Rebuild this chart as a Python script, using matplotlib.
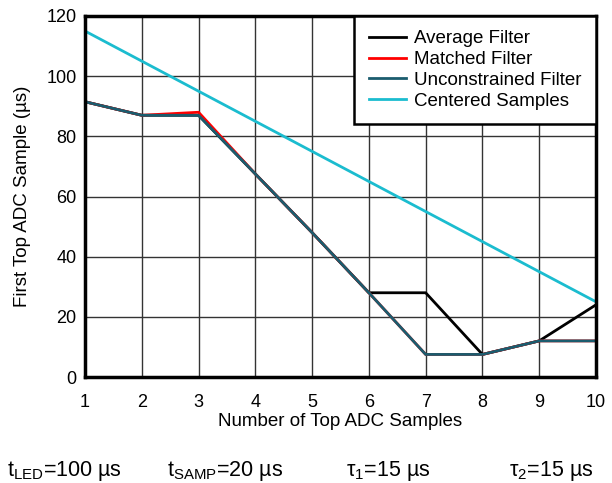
import numpy as np
import matplotlib.pyplot as plt

plt.rcParams['font.family'] = ['Liberation Sans', 'DejaVu Sans']

n_samples = [1, 2, 3, 4, 5, 6, 7, 8, 9, 10]
average = [91.5, 87, 87, 67.5, 48, 28, 28, 7.5, 12, 24]
matched = [91.5, 87, 88, 67.5, 48, 28, 7.5, 7.5, 12, 12]
unconstrained = [91.5, 87, 87, 67.5, 48, 28, 7.5, 7.5, 12, 12]
centered = [115, 105, 95, 85, 75, 65, 55, 45, 35, 25]

fig = plt.figure(figsize=(6.12, 4.83), dpi=100)
ax = fig.add_axes([85 / 612, 1 - 377 / 483, 511 / 612, 361 / 483])

ax.plot(n_samples, average, color='black', lw=2, label='Average Filter')
ax.plot(n_samples, matched, color='#ff0000', lw=2, label='Matched Filter')
ax.plot(n_samples, unconstrained, color='#1b5c6e', lw=2, label='Unconstrained Filter')
ax.plot(n_samples, centered, color='#1bbccf', lw=2, label='Centered Samples')

ax.set_xlim(1, 10)
ax.set_ylim(0, 120)
ax.set_xticks(n_samples)
ax.set_yticks(np.arange(0, 121, 20))
ax.grid(True, color='#333333', lw=1)
ax.set_axisbelow(True)
for s in ax.spines.values():
    s.set_linewidth(2.5)
ax.tick_params(length=0, labelsize=13)
ax.tick_params(axis='x', pad=12)
ax.tick_params(axis='y', pad=6)
ax.set_xlabel('Number of Top ADC Samples', fontsize=13.5, labelpad=2)
ax.set_ylabel('First Top ADC Sample (µs)', fontsize=13.5, labelpad=11)

leg = ax.legend(loc='upper right', fontsize=13.5, fancybox=False, framealpha=1,
                edgecolor='black', handlelength=2.0, handletextpad=0.45,
                labelspacing=0.2, borderaxespad=0, borderpad=0.75)
leg.get_frame().set_linewidth(1.8)

ty = 1 - 476 / 483
fig.text(7 / 612, ty, r'$\mathregular{t_{LED}}$=100 µs', fontsize=15.5, va='baseline')
fig.text(167 / 612, ty, r'$\mathregular{t_{SAMP}}$=20 µs', fontsize=15.5, va='baseline')
fig.text(346 / 612, ty, r'τ$\mathregular{_1}$=15 µs', fontsize=15.5, va='baseline')
fig.text(509 / 612, ty, r'τ$\mathregular{_2}$=15 µs', fontsize=15.5, va='baseline')

fig.savefig('out.png', dpi=100)
